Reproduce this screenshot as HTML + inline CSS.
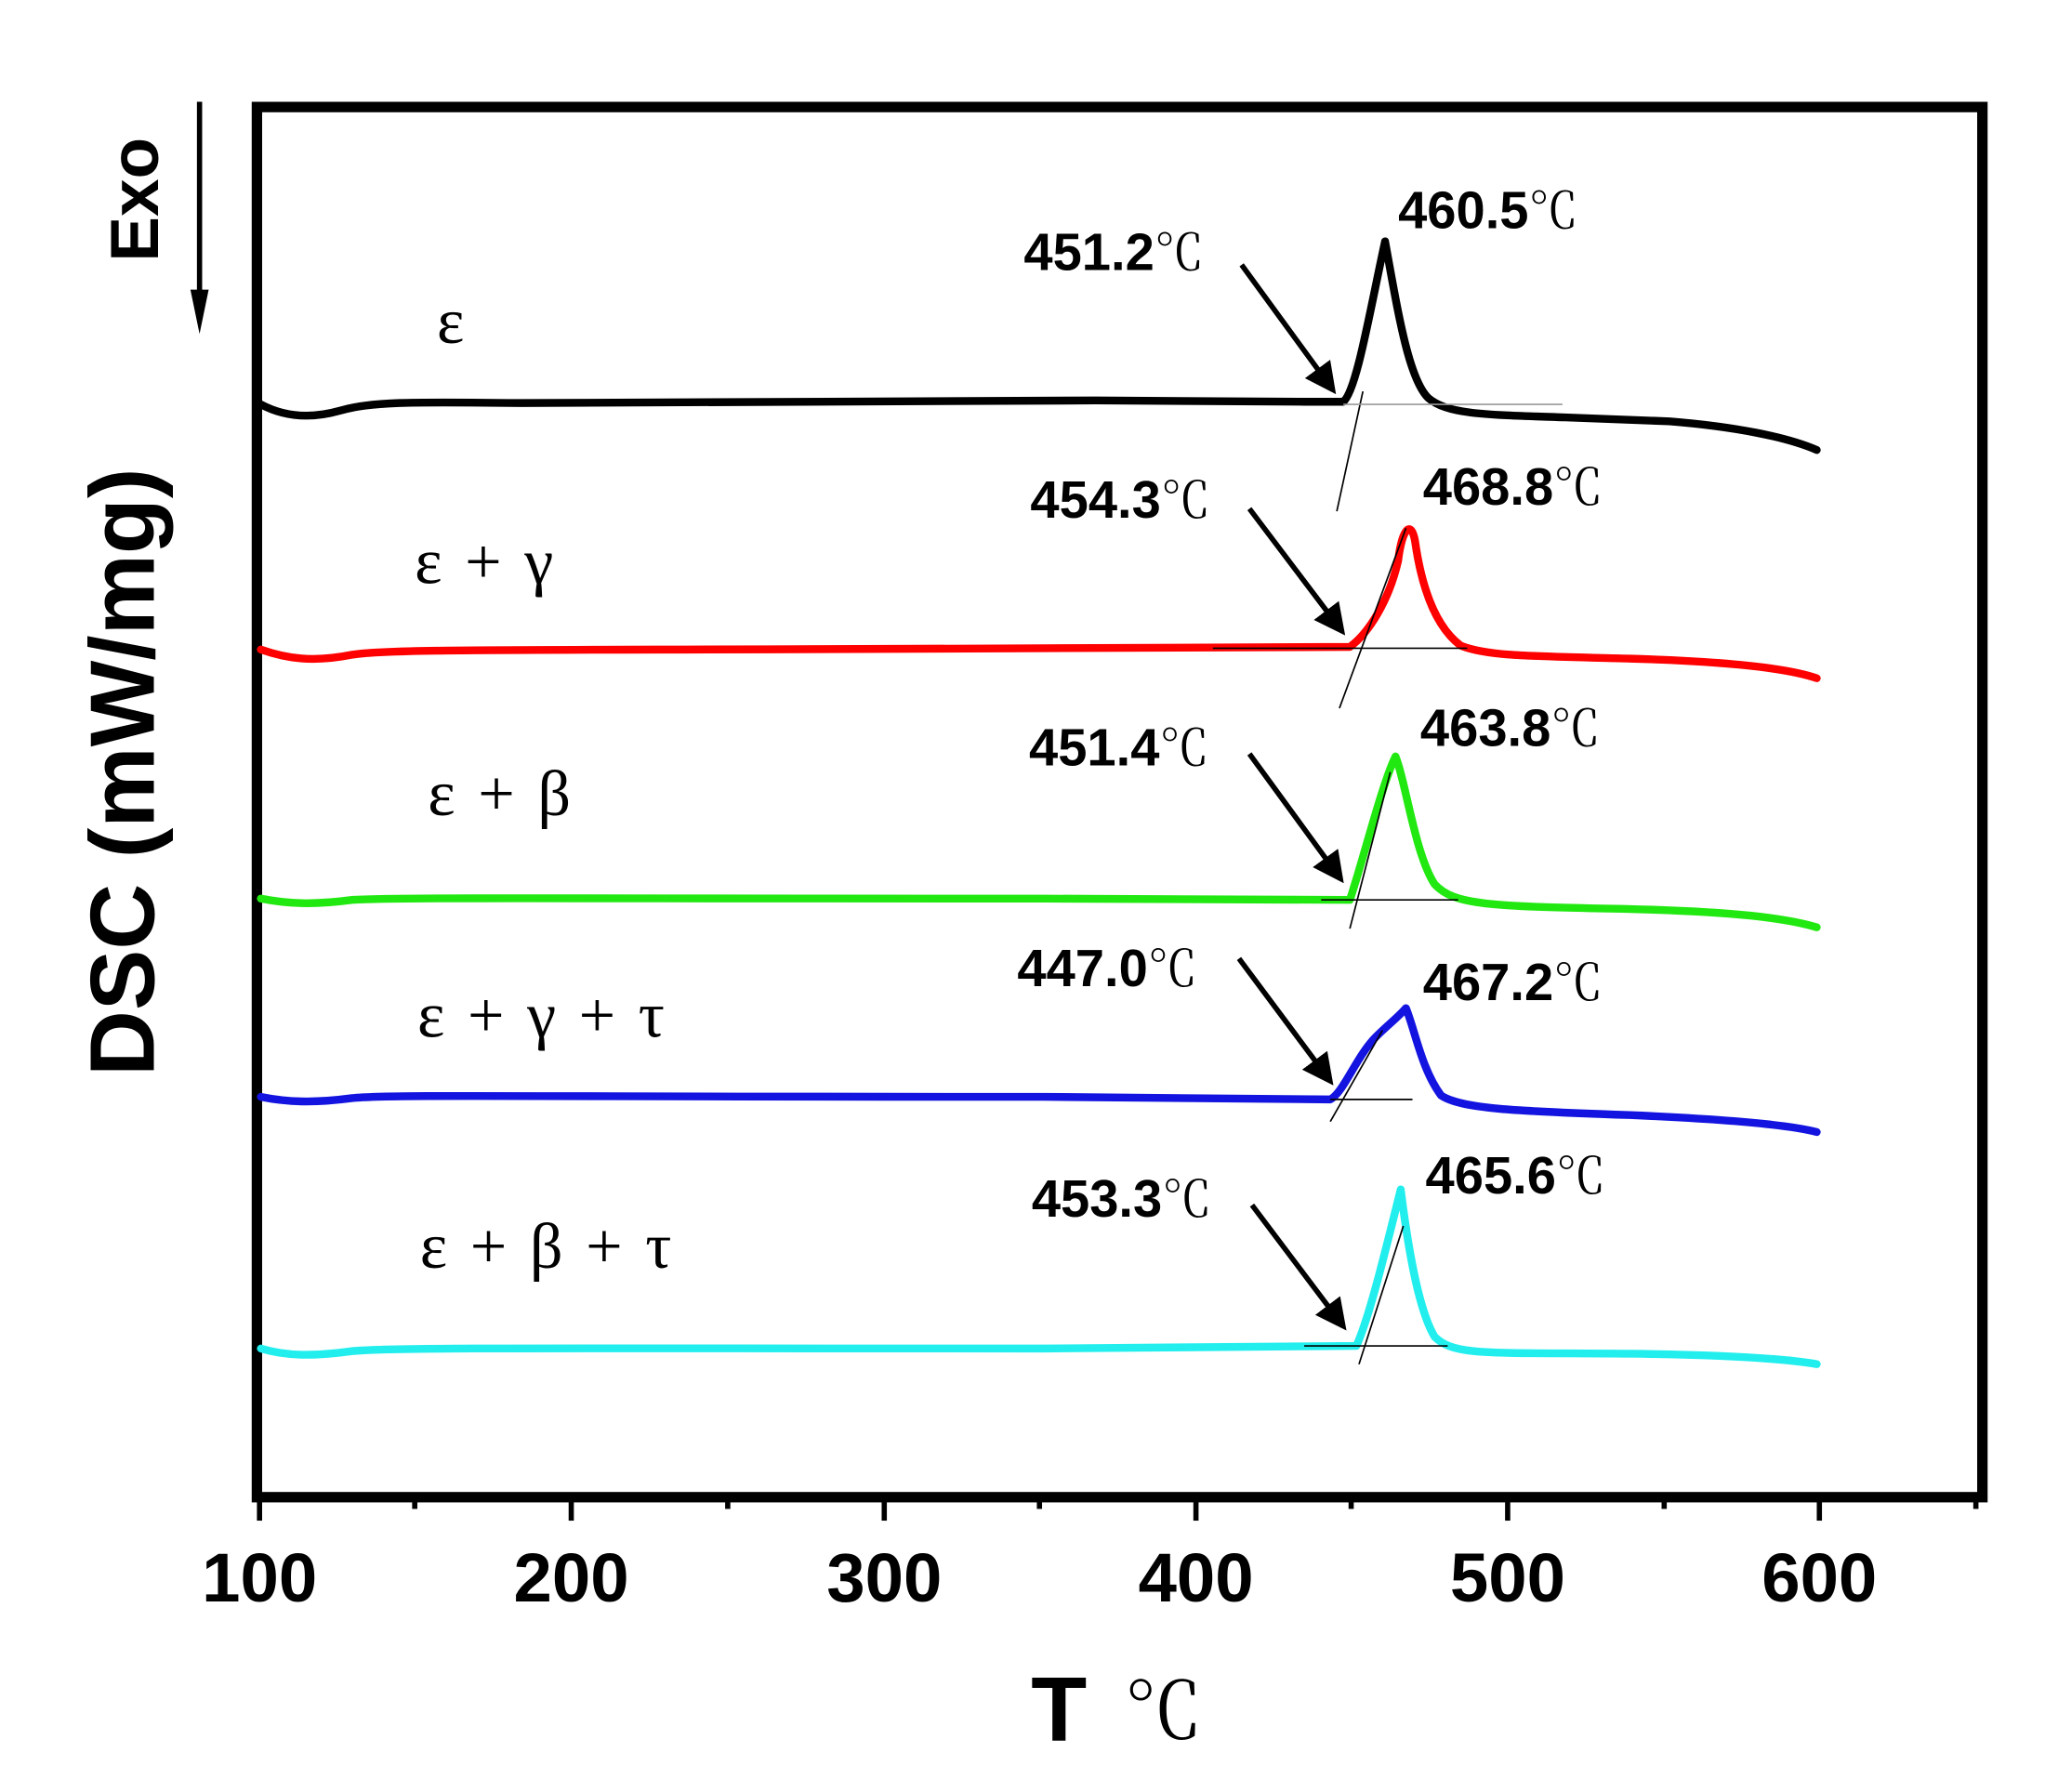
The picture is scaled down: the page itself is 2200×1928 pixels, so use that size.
<!DOCTYPE html>
<html><head><style>html,body{margin:0;padding:0;background:#fff}svg{display:block}</style></head>
<body>
<svg width="2200" height="1928" viewBox="0 0 1568 1374" xmlns="http://www.w3.org/2000/svg">
<rect width="1568" height="1374" fill="#fff"/>
<rect x="197" y="82" width="1323" height="1066" fill="none" stroke="#000" stroke-width="8"/>
<g stroke="#000" stroke-width="4">
<line x1="199" y1="1148" x2="199" y2="1166"/><line x1="438" y1="1148" x2="438" y2="1166"/>
<line x1="678" y1="1148" x2="678" y2="1166"/><line x1="917" y1="1148" x2="917" y2="1166"/>
<line x1="1156" y1="1148" x2="1156" y2="1166"/><line x1="1395" y1="1148" x2="1395" y2="1166"/>
<line x1="318" y1="1148" x2="318" y2="1157"/><line x1="558" y1="1148" x2="558" y2="1157"/>
<line x1="797" y1="1148" x2="797" y2="1157"/><line x1="1036" y1="1148" x2="1036" y2="1157"/>
<line x1="1276" y1="1148" x2="1276" y2="1157"/><line x1="1515" y1="1148" x2="1515" y2="1157"/>
</g>
<g font-family="Liberation Sans, sans-serif" font-weight="bold" font-size="53" text-anchor="middle" fill="#000">
<text x="199" y="1228">100</text><text x="438" y="1228">200</text><text x="678" y="1228">300</text>
<text x="917" y="1228">400</text><text x="1156" y="1228">500</text><text x="1395" y="1228">600</text>
</g>
<text x="812" y="1335" font-family="Liberation Sans, sans-serif" font-weight="bold" font-size="70" text-anchor="middle">T</text>
<text x="892" y="1333" font-family="'Noto Serif CJK SC', serif" font-size="60" text-anchor="middle">℃</text>
<text transform="translate(118,592) rotate(-90)" font-family="Liberation Sans, sans-serif" font-weight="bold" font-size="70" text-anchor="middle">DSC (mW/mg)</text>
<text transform="translate(121,153) rotate(-90)" font-family="Liberation Sans, sans-serif" font-weight="bold" font-size="52" text-anchor="middle">Exo</text>
<line x1="153" y1="78" x2="153" y2="228" stroke="#000" stroke-width="4"/>
<polygon points="146,222 160,222 153,256" fill="#000"/>
<g fill="none" stroke-width="6" stroke-linejoin="round" stroke-linecap="round">
<path stroke="#000" d="M200,310 C215,318 235,322 260,315 C285,308 310,308 400,309 L840,307 L1000,308 L1030,308 C1040,300 1050,240 1062,185 C1072,240 1080,290 1095,305 C1110,318 1140,318 1200,320 L1280,323 C1330,327 1370,335 1393,345"/>
<path stroke="#ff0000" d="M200,498 C220,505 240,508 270,502 C300,497 400,499 800,497 L1035,496 C1050,485 1065,460 1072,430 C1075,405 1082,398 1085,415 C1090,450 1100,480 1120,495 C1140,503 1170,503 1250,505 C1320,507 1370,512 1393,520"/>
<path stroke="#22e811" d="M200,689 C220,693 240,694 270,690 C300,688 400,689 800,689 L1035,690 C1045,660 1060,600 1070,580 C1078,600 1085,655 1100,678 C1115,694 1140,695 1250,697 C1330,699 1370,704 1393,711"/>
<path stroke="#1414e0" d="M200,841 C220,845 240,846 270,842 C300,839 400,841 800,841 L1020,843 C1030,838 1040,810 1055,795 C1065,785 1072,780 1078,773 C1085,790 1090,820 1105,840 C1120,850 1160,852 1250,855 C1320,858 1370,862 1393,868"/>
<path stroke="#22eeee" d="M200,1034 C220,1040 240,1040 270,1036 C300,1033 400,1034 800,1034 L1040,1032 C1050,1010 1062,960 1074,912 C1080,960 1088,1005 1100,1025 C1115,1040 1140,1037 1250,1038 C1330,1039 1370,1042 1393,1046"/>
</g>
<g stroke="#000" stroke-width="1.2" fill="none">
<line x1="1025" y1="392" x2="1045" y2="300"/><line x1="1030" y1="310" x2="1198" y2="310" stroke="#999"/>
<line x1="1027" y1="543" x2="1078" y2="405"/><line x1="930" y1="497" x2="1125" y2="497"/>
<line x1="1035" y1="712" x2="1066" y2="592"/><line x1="1013" y1="690" x2="1118" y2="690"/>
<line x1="1020" y1="860" x2="1060" y2="790"/><line x1="1020" y1="843" x2="1083" y2="843"/>
<line x1="1042" y1="1046" x2="1076" y2="940"/><line x1="1000" y1="1032" x2="1110" y2="1032"/>
</g>
<defs><marker id="ah" markerWidth="6" markerHeight="6" refX="5" refY="3" orient="auto" markerUnits="strokeWidth"><path d="M0,0 L6,3 L0,6 z" fill="#000"/></marker></defs>
<g stroke="#000" stroke-width="4" marker-end="url(#ah)">
<line x1="952" y1="203" x2="1022" y2="299"/>
<line x1="958" y1="390" x2="1029" y2="484"/>
<line x1="958" y1="578" x2="1028" y2="674"/>
<line x1="950" y1="735" x2="1020" y2="829"/>
<line x1="960" y1="924" x2="1030" y2="1017"/>
</g>
<g font-size="40" fill="#000">
<text x="785" y="207"><tspan font-family="Liberation Sans, sans-serif" font-weight="bold">451.2</tspan><tspan font-family="'Noto Serif CJK SC', serif" font-size="38">℃</tspan></text>
<text x="1072" y="175"><tspan font-family="Liberation Sans, sans-serif" font-weight="bold">460.5</tspan><tspan font-family="'Noto Serif CJK SC', serif" font-size="38">℃</tspan></text>
<text x="790" y="397"><tspan font-family="Liberation Sans, sans-serif" font-weight="bold">454.3</tspan><tspan font-family="'Noto Serif CJK SC', serif" font-size="38">℃</tspan></text>
<text x="1091" y="387"><tspan font-family="Liberation Sans, sans-serif" font-weight="bold">468.8</tspan><tspan font-family="'Noto Serif CJK SC', serif" font-size="38">℃</tspan></text>
<text x="789" y="587"><tspan font-family="Liberation Sans, sans-serif" font-weight="bold">451.4</tspan><tspan font-family="'Noto Serif CJK SC', serif" font-size="38">℃</tspan></text>
<text x="1089" y="572"><tspan font-family="Liberation Sans, sans-serif" font-weight="bold">463.8</tspan><tspan font-family="'Noto Serif CJK SC', serif" font-size="38">℃</tspan></text>
<text x="780" y="756"><tspan font-family="Liberation Sans, sans-serif" font-weight="bold">447.0</tspan><tspan font-family="'Noto Serif CJK SC', serif" font-size="38">℃</tspan></text>
<text x="1091" y="767"><tspan font-family="Liberation Sans, sans-serif" font-weight="bold">467.2</tspan><tspan font-family="'Noto Serif CJK SC', serif" font-size="38">℃</tspan></text>
<text x="791" y="933"><tspan font-family="Liberation Sans, sans-serif" font-weight="bold">453.3</tspan><tspan font-family="'Noto Serif CJK SC', serif" font-size="38">℃</tspan></text>
<text x="1093" y="915"><tspan font-family="Liberation Sans, sans-serif" font-weight="bold">465.6</tspan><tspan font-family="'Noto Serif CJK SC', serif" font-size="38">℃</tspan></text>
</g>
<g font-family="Liberation Serif, serif" font-size="50" fill="#000" word-spacing="5">
<text x="335" y="263">ε</text>
<text x="318" y="447">ε + γ</text>
<text x="328" y="625">ε + β</text>
<text x="320" y="795">ε + γ + τ</text>
<text x="322" y="972">ε + β + τ</text>
</g>
</svg>
</body></html>
